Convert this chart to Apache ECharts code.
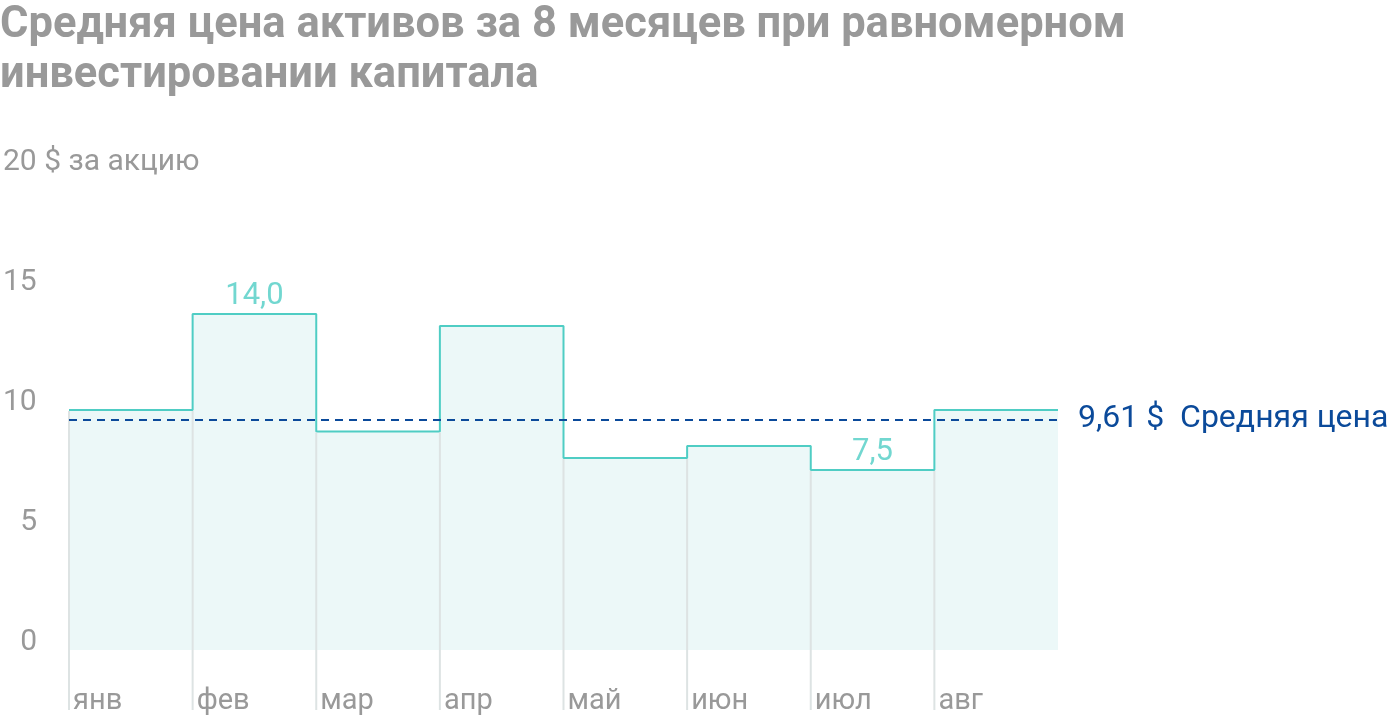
<!DOCTYPE html>
<html><head><meta charset="utf-8">
<script src="https://cdn.jsdelivr.net/npm/echarts@6/dist/echarts.min.js"></script>
<style>html,body{margin:0;padding:0;background:#fff}#c{width:1400px;height:720px}</style>
</head><body><div id="c"></div>
<script>
const months = ['янв','фев','мар','апр','май','июн','июл','авг'];
const prices = [10.0, 14.0, 9.1, 13.5, 8.0, 8.5, 7.5, 10.0];
const avgPrice = 9.61;
const labelledMonths = [1, 6];
const yTicks = [0, 5, 10, 15, 20];

const stepData = prices.map((v, i) => [i, v]).concat([[prices.length, prices[prices.length - 1]]]);
const dividerData = months.map((m, i) => [i, Math.min(i > 0 ? prices[i - 1] : prices[i], prices[i])]);
const labelData = labelledMonths.map(i => [i + 0.5, prices[i]]);

const chart = echarts.init(document.getElementById('c'));
const font = 'Roboto, "Noto Sans", sans-serif';
chart.setOption({
  animation: false,
  title: {
    text: 'Средняя цена активов за 8 месяцев при равномерном\nинвестировании капитала',
    left: 0, top: 1, padding: [0, 0, 0, 0],
    textStyle: { fontFamily: font, fontSize: 43.5, fontWeight: 'bold', color: '#999', lineHeight: 50 }
  },
  grid: { left: 66, right: 342, top: 170, bottom: 70 },
  xAxis: {
    type: 'value', min: 0, max: prices.length, interval: 1,
    axisLine: { show: false }, axisTick: { show: false }, splitLine: { show: false },
    axisLabel: {
      fontFamily: font, fontSize: 29, color: '#999', align: 'left', margin: 37,
      padding: [0, 0, 0, 4],
      formatter: v => months[v] || ''
    }
  },
  yAxis: {
    type: 'value', min: yTicks[0], max: yTicks[yTicks.length - 1], interval: 5,
    axisLine: { show: false }, axisTick: { show: false }, splitLine: { show: false },
    axisLabel: {
      fontFamily: font, fontSize: 30, color: '#999', align: 'left', margin: 66,
      padding: [0, 0, 16, 0],
      formatter: v => v === 20 ? '{a|20 $ за акцию}' : (v < 10 ? '{r|' + v + '}' : '{a|' + v + '}'),
      rich: {
        a: { fontFamily: font, fontSize: 30, color: '#999' },
        r: { fontFamily: font, fontSize: 30, color: '#999', width: 34, align: 'right' }
      }
    }
  },
  series: [
    {
      type: 'line', step: 'end', z: 2, symbol: 'none',
      data: stepData,
      lineStyle: { color: '#4fcdc4', width: 2 },
      areaStyle: { color: '#ecf8f8', opacity: 1, origin: 0 },
      markLine: {
        silent: true, symbol: 'none',
        lineStyle: { color: '#0b4a9a', type: [8, 6], width: 2 },
        label: {
          position: 'end', distance: 20, fontFamily: font, fontSize: 32, color: '#0b4a9a',
          formatter: () => avgPrice.toFixed(2).replace('.', ',') + ' $  Средняя цена'
        },
        data: [{ yAxis: avgPrice }]
      }
    },
    {
      type: 'custom', z: 3, clip: false, silent: true,
      data: dividerData,
      renderItem: (params, api) => {
        const top = api.coord([api.value(0), api.value(1)]);
        const base = api.coord([api.value(0), 0]);
        return {
          type: 'line',
          shape: { x1: top[0], y1: top[1] + 1, x2: top[0], y2: base[1] + 60 },
          style: { stroke: '#dde3e3', lineWidth: 2 }
        };
      }
    },
    {
      type: 'scatter', z: 4, symbolSize: 0, silent: true,
      data: labelData,
      label: {
        show: true, position: 'top', distance: 2, fontFamily: font, fontSize: 31, color: '#4fcdc4',
        formatter: p => p.value[1].toFixed(1).replace('.', ',')
      }
    }
  ]
});
</script></body></html>
